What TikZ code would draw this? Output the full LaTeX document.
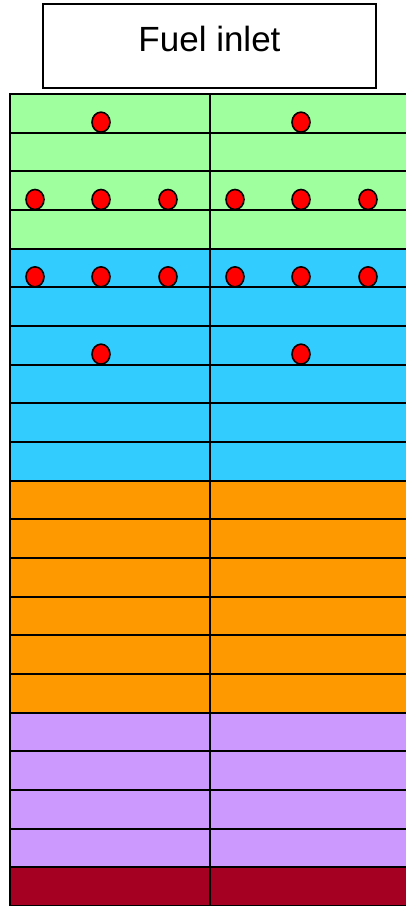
\documentclass[tikz,border=0pt]{standalone}
\usepackage{fontspec}
\setmainfont{Liberation Sans}
\definecolor{stackGreen}{HTML}{9FFF9F}
\definecolor{stackBlue}{HTML}{33CCFF}
\definecolor{stackOrange}{HTML}{FF9900}
\definecolor{stackPurple}{HTML}{CC99FF}
\definecolor{stackRed}{HTML}{A50021}
\definecolor{dotRed}{HTML}{FF0000}
\tikzset{
  every picture/.style={font=\fontsize{35}{42}\selectfont},
  inlet box/.style={draw=black, line width=1.8pt, fill=white,
    minimum width=333pt, minimum height=84pt, inner sep=0pt,
    text depth=14pt},
  stack cell/.style={draw=black, line width=1.9pt},
  fuel dot/.style={draw=black, line width=1.6pt, fill=dotRed}
}
\begin{document}
\begin{tikzpicture}[x=1pt,y=-1pt]
  \useasboundingbox (0,0) rectangle (406,906);
  \clip (0,0) rectangle (406,906);
  \node[inlet box] (inlet) at (209.5,46) {Fuel inlet};
  % stack layers, two columns
  \foreach \c/\a/\b in {stackGreen/0/3, stackBlue/4/9, stackOrange/10/15,
                        stackPurple/16/19, stackRed/20/20} {
    \foreach \i in {\a,...,\b} {
      \pgfmathsetmacro\ytop{94+\i*38.667}
      \pgfmathsetmacro\ybot{94+(\i+1)*38.667}
      \draw[stack cell, fill=\c] (10,\ytop) rectangle (210,\ybot);
      \draw[stack cell, fill=\c] (210,\ytop) rectangle (412,\ybot);
    }
  }
  % fuel injection points
  \foreach \i/\n in {1/1, 3/3, 5/3, 7/1} {
    \pgfmathsetmacro\yd{94+\i*38.667-10.5}
    \foreach \col in {10,210} {
      \ifnum\n=1
        \draw[fuel dot] (\col+91,\yd) ellipse (9pt and 10pt);
      \else
        \foreach \dx in {25,91,158}
          \draw[fuel dot] (\col+\dx,\yd) ellipse (9pt and 10pt);
      \fi
    }
  }
\end{tikzpicture}
\end{document}
